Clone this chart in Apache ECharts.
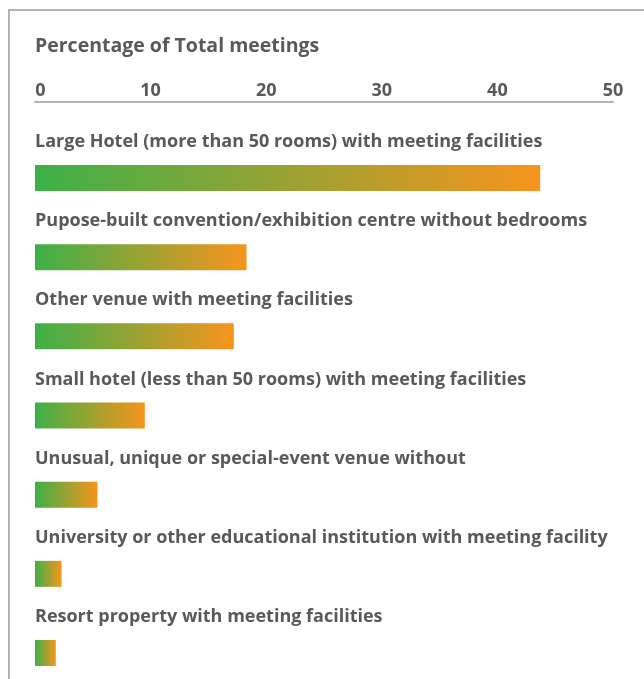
<!DOCTYPE html>
<html>
<head>
<meta charset="utf-8">
<title>Percentage of Total meetings</title>
<script src="https://cdn.jsdelivr.net/npm/echarts@6/dist/echarts.min.js"></script>
<style>
  html, body { margin: 0; padding: 0; background: #fff; }
  #chart { width: 644px; height: 679px; }
</style>
</head>
<body>
<div id="chart"></div>
<script>
// venue types, top to bottom
const venues = [
  'Large Hotel (more than 50 rooms) with meeting facilities',
  'Pupose-built convention/exhibition centre without bedrooms',
  'Other venue with meeting facilities',
  'Small hotel (less than 50 rooms) with meeting facilities',
  'Unusual, unique or special-event venue without',
  'University or other educational institution with meeting facility',
  'Resort property with meeting facilities'
];
// percentage of total meetings
const shares = [43.7, 18.3, 17.2, 9.5, 5.4, 2.3, 1.8];
const tickValues = [0, 10, 20, 30, 40, 50];

const textGrey = '#58595b';
const lineGrey = '#b1b3b6';
const font = 'Open Sans';

const chart = echarts.init(document.getElementById('chart'));

// every bar gets its own green -> orange fade
const barColor = new echarts.graphic.LinearGradient(0, 0, 1, 0, [
  { offset: 0, color: '#3db049' },
  { offset: 1, color: '#f7941d' }
]);

const option = {
  animation: false,
  title: {
    text: 'Percentage of Total meetings',
    left: 35,
    top: 36,
    padding: 0,
    textStyle: {
      color: textGrey,
      fontFamily: font,
      fontWeight: 'bold',
      fontSize: 19.5
    }
  },
  graphic: [
    { type: 'line', shape: { x1: 8, y1: 10, x2: 644, y2: 10 }, style: { stroke: lineGrey, lineWidth: 2 } },
    { type: 'line', shape: { x1: 9, y1: 10, x2: 9, y2: 679 }, style: { stroke: lineGrey, lineWidth: 2 } }
  ],
  grid: {
    left: 35,
    right: 31,
    top: 178,
    bottom: 26
  },
  xAxis: {
    type: 'value',
    position: 'top',
    offset: 76,
    min: tickValues[0],
    max: tickValues[tickValues.length - 1],
    interval: 10,
    axisLine: { show: true, lineStyle: { color: lineGrey, width: 2 } },
    axisTick: { show: false },
    splitLine: { show: false },
    axisLabel: {
      margin: 2,
      color: textGrey,
      fontFamily: font,
      fontWeight: 'bold',
      fontSize: 18,
      formatter: function (v) {
        return v === 0 ? '{first|0}' : String(v);
      },
      rich: {
        first: {
          color: textGrey,
          fontFamily: font,
          fontWeight: 'bold',
          fontSize: 18,
          padding: [0, 0, 0, 11]
        }
      }
    }
  },
  yAxis: {
    type: 'category',
    data: venues,
    inverse: true,
    boundaryGap: false,
    axisLine: { show: false },
    axisTick: { show: false },
    axisLabel: { show: false },
    splitLine: { show: false }
  },
  series: [
    {
      type: 'bar',
      data: shares,
      barWidth: 26,
      itemStyle: { color: barColor },
      label: {
        show: true,
        position: 'insideLeft',
        distance: 0,
        offset: [0, -36],
        formatter: function (p) { return p.name; },
        color: textGrey,
        fontFamily: font,
        fontWeight: 'bold',
        fontSize: 18
      }
    }
  ]
};

chart.setOption(option);
</script>
</body>
</html>
